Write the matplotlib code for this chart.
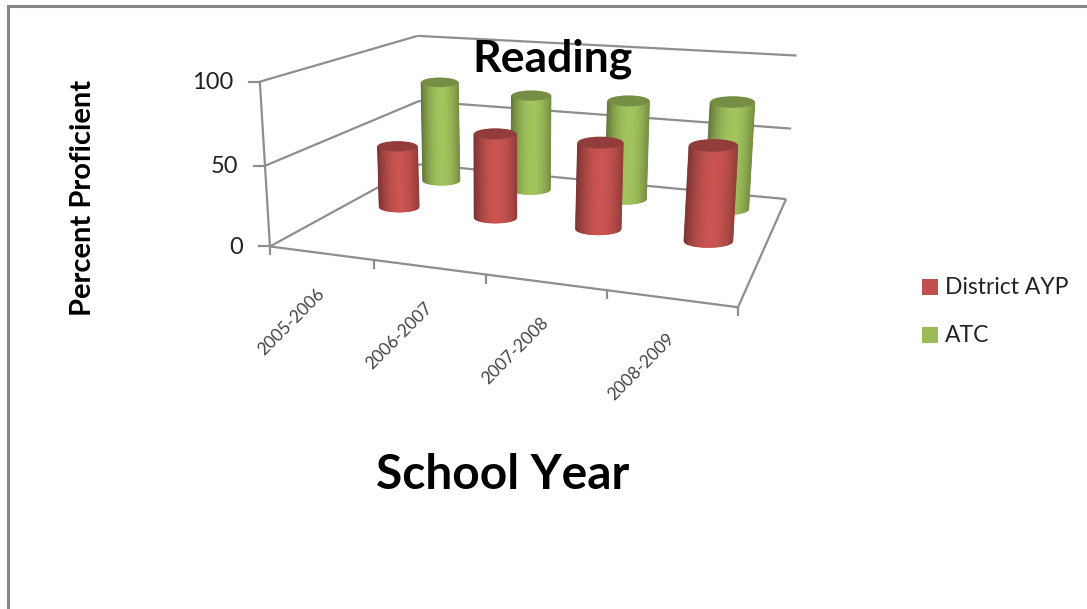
import numpy as np
import matplotlib
matplotlib.use("Agg")
from matplotlib import pyplot as plt
from matplotlib.collections import PolyCollection
from matplotlib.patches import Ellipse, Rectangle

years = ["2005-2006", "2006-2007", "2007-2008", "2008-2009"]
district_ayp = [42, 56, 56, 60]
atc = [73, 68, 69, 73]
y_ticks = [0, 50, 100]

RED = np.array([0xC0, 0x50, 0x4D]) / 255
GREEN = np.array([0x9B, 0xBB, 0x59]) / 255
GRID = "#8e8e8e"

plt.rcParams["font.family"] = ["Lato", "DejaVu Sans"]

# box corners: (category, depth, percent) -> pixel
calib = [
    (0, 0, 0, 269.5, 246.7), (0, 0, 50, 266, 165), (0, 0, 100, 260, 81.7),
    (0, 1, 0, 421, 164), (0, 1, 50, 419, 101), (0, 1, 100, 416.7, 36),
    (4, 1, 0, 786, 199), (4, 1, 50, 790.7, 128.7), (4, 1, 100, 797, 55.7),
    (4, 0, 0, 738, 306.7), (1, 0, 0, 373, 260.7), (2, 0, 0, 486, 275), (3, 0, 0, 607, 290),
]


def fit_camera(points):
    rows = []
    for u, v, z, px, py in points:
        rows.append([u, v, z, 1, 0, 0, 0, 0, -px * u, -px * v, -px * z, -px])
        rows.append([0, 0, 0, 0, u, v, z, 1, -py * u, -py * v, -py * z, -py])
    return np.linalg.svd(np.array(rows, dtype=float))[2][-1].reshape(3, 4)


cam = fit_camera(calib)


def proj(u, v, z):
    p = cam @ np.array([u, v, z, 1.0])
    return p[:2] / p[2]


def line3d(ax, a, b, lw=1.6, z=1):
    pa, pb = proj(*a), proj(*b)
    ax.plot([pa[0], pb[0]], [pa[1], pb[1]], color=GRID, lw=lw, zorder=z, solid_capstyle="butt")


def cylinder(ax, u, v, value, color, half_width=0.215, zorder=3):
    base = proj(u, v, 0)
    top = proj(u, v, value)
    rx = abs(proj(u + half_width, v, 0)[0] - proj(u - half_width, v, 0)[0]) / 2
    ry = rx * 0.26
    t = np.linspace(-1, 1, 61)
    front = np.sqrt(1 - t**2) * ry
    polys, colors = [], []
    for i in range(len(t) - 1):
        mid = (t[i] + t[i + 1]) / 2
        polys.append([
            (base[0] + rx * t[i], base[1] + front[i]),
            (base[0] + rx * t[i + 1], base[1] + front[i + 1]),
            (top[0] + rx * t[i + 1], top[1] + front[i + 1]),
            (top[0] + rx * t[i], top[1] + front[i]),
        ])
        colors.append(np.clip(color * (0.7 + 0.35 * (1 - (mid - 0.1) ** 2)), 0, 1))
    ax.add_collection(PolyCollection(polys, facecolors=colors, edgecolors=colors, linewidths=0.5, zorder=zorder))
    ax.add_patch(Ellipse(top, 2 * rx, 2 * ry, facecolor=color * 0.76, edgecolor="none", zorder=zorder + 0.5))


fig = plt.figure(figsize=(10.87, 6.09), dpi=100)
ax = fig.add_axes([0, 0, 1, 1])
ax.set_xlim(0, 1087)
ax.set_ylim(609, 0)
ax.axis("off")

# outer frame, only top and left survive the crop
ax.plot([8, 8, 1087], [609, 6, 6], color="#868686", lw=2.2, solid_joinstyle="miter")

# walls and floor
for tick in y_ticks:
    line3d(ax, (0, 0, tick), (0, 1, tick))
    line3d(ax, (0, 1, tick), (4, 1, tick))
    pt = proj(0, 0, tick)
    ax.plot([pt[0] - 11, pt[0]], [pt[1], pt[1]], color=GRID, lw=1.6, zorder=1)
    ax.text(pt[0] - 27, pt[1] + 1, str(tick), ha="right", va="center", fontsize=17, color="#222222")
line3d(ax, (0, 0, 0), (0, 0, 100))
line3d(ax, (0, 0, 0), (4, 0, 0))
line3d(ax, (4, 0, 0), (4, 1, 0))
for i in range(len(years) + 1):
    pt = proj(i, 0, 0)
    ax.plot([pt[0], pt[0]], [pt[1], pt[1] + 8], color=GRID, lw=1.6, zorder=1)

for i, year in enumerate(years):
    pt = proj(i + 0.5, 0, 0)
    ax.text(pt[0] + 1, pt[1] + 38, year, rotation=45, rotation_mode="anchor", ha="right", va="center",
            fontsize=12.5, color="#444444")

for i, value in enumerate(atc):
    cylinder(ax, i + 0.5, 0.82, value, GREEN, zorder=3)
for i, value in enumerate(district_ayp):
    cylinder(ax, i + 0.515, 0.48, value, RED, zorder=4)

ax.text(552, 59, "Reading", ha="center", va="center", fontsize=32, fontweight="bold", color="black", zorder=6)
ax.text(503, 475, "School Year", ha="center", va="center", fontsize=34.5, fontweight="bold", color="black")
ax.text(83, 198, "Percent Proficient", rotation=90, ha="center", va="center", fontsize=21, fontweight="bold", color="black")

for y, label, color in [(287, "District AYP", RED), (335, "ATC", GREEN)]:
    ax.add_patch(Rectangle((922, y - 8), 16, 16, facecolor=color, edgecolor="none"))
    ax.text(945, y, label, ha="left", va="center", fontsize=16.5, color="#222222")

fig.savefig("out.png", dpi=100)
